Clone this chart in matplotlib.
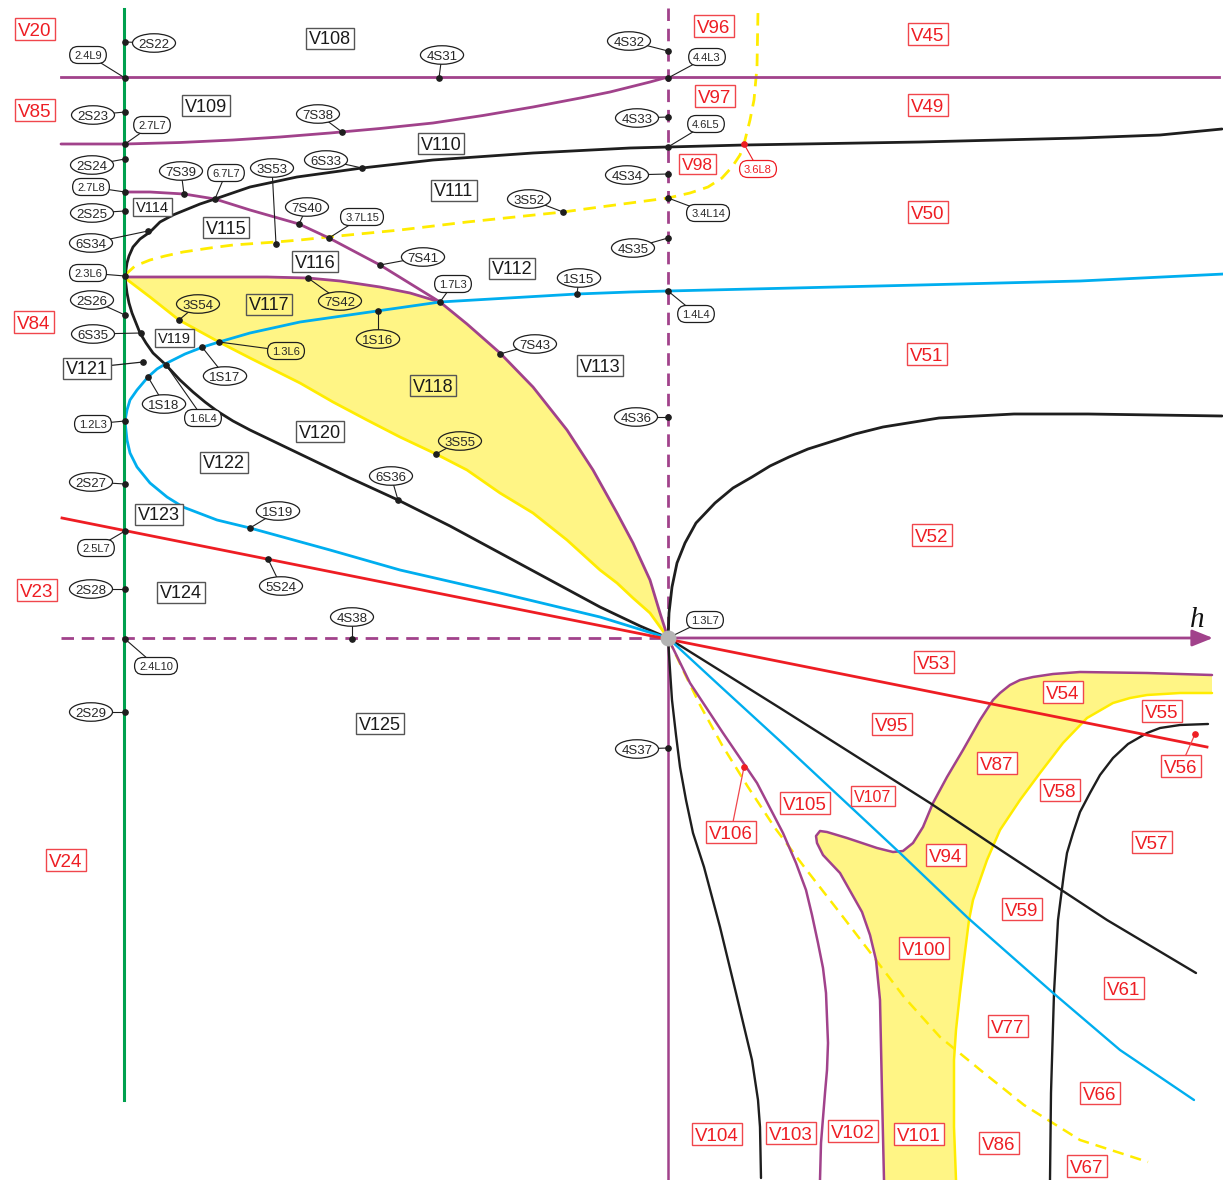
import matplotlib
matplotlib.use("Agg")
import matplotlib.pyplot as plt
from matplotlib.patches import Ellipse, Rectangle, FancyBboxPatch

# ---------------- data (picture coordinates, y downward) ----------------
green_x = [124, 124]
green_y = [9, 1100]

purple_hline_x = [61, 1219]
purple_hline_y = [77, 77]

purple_upper_x = [61, 125, 180, 233, 280, 330, 380, 433, 483, 533, 583, 610, 630, 650, 668]
purple_upper_y = [144, 144, 142.5, 140, 137, 133, 128.5, 123, 115.5, 107, 97.5, 92, 87, 82, 77]

black_upper_x = [1222, 1160, 1080, 920, 744, 668, 630, 533, 433, 362, 297, 250, 215, 200, 173, 160, 150, 140,
                 133, 129, 127, 126, 125, 126, 127, 129, 132, 136, 140, 146, 153, 166, 180, 193, 205, 217,
                 233, 250, 275, 300, 350, 398, 450, 500, 550, 600, 640, 668]
black_upper_y = [129, 135, 138, 142, 145, 147, 148, 153, 160, 168, 177, 187, 199, 204, 215, 222, 232, 239,
                 247, 256, 263, 270, 277, 285, 293, 303, 313, 323, 333, 343, 353, 365, 380, 392, 402, 411,
                 421, 430, 442, 454, 478, 500, 526, 553, 580, 607, 626, 638]

black_ray_x = [668, 780, 930, 993, 1107, 1196]
black_ray_y = [638, 708, 803, 845, 920, 973]

black_v52_x = [668, 669, 672, 677, 685, 696, 715, 733, 752, 770, 789, 808, 827, 855, 883, 939, 1014, 1088, 1222]
black_v52_y = [640, 613, 587, 563, 543, 523, 503, 488, 477, 466, 457, 449, 443, 434, 427, 418, 414, 414, 416]

black_down_x = [668, 670, 672, 676, 680, 686, 693, 704, 720, 736, 752, 758, 760, 761]
black_down_y = [638, 670, 700, 735, 767, 800, 833, 867, 927, 993, 1060, 1100, 1127, 1178]

black_br_x = [1208, 1180, 1160, 1147, 1128, 1113, 1100, 1090, 1080, 1073, 1067, 1064, 1058, 1054, 1051, 1050]
black_br_y = [724, 725, 728, 733, 744, 758, 775, 793, 812, 833, 853, 873, 920, 993, 1093, 1180]

ydash_top_x = [125, 135, 150, 165, 183, 210, 233, 276, 300, 328, 400, 467, 563, 600, 668, 690, 708, 722, 732,
               740, 744, 750, 754, 757, 758]
ydash_top_y = [275, 266, 260, 256, 252, 248, 245, 242, 240, 237, 230, 222, 212, 207, 198, 193, 187, 178, 167,
               155, 144, 120, 100, 67, 10]

ydash_low_x = [668, 682, 700, 722, 748, 775, 805, 840, 876, 904, 940, 984, 1024, 1080, 1148]
ydash_low_y = [638, 668, 705, 745, 787, 828, 868, 913, 960, 997, 1037, 1073, 1105, 1140, 1162]

purple_low_x = [668, 690, 723, 757, 783, 796, 806, 812, 818, 823, 826, 828, 827, 825, 821, 820]
purple_low_y = [638, 683, 733, 783, 833, 863, 890, 915, 943, 968, 993, 1043, 1070, 1093, 1143, 1180]

blue_upper_x = [1224, 1080, 920, 668, 630, 577, 440, 377, 300, 250, 219, 203, 185, 167, 157, 148, 137, 130, 127,
                125, 127, 130, 137, 150, 167, 183, 217, 250, 330, 400, 500, 600, 668]
blue_upper_y = [274, 281, 285, 291, 292, 294, 302, 311, 322, 333, 342, 347, 354, 363, 369, 377, 390, 400, 410,
                421, 440, 453, 467, 483, 497, 507, 520, 528, 550, 570, 593, 617, 638]

blue_low_x = [668, 720, 780, 840, 900, 968, 1052, 1120, 1160, 1194]
blue_low_y = [638, 686, 741, 797, 853, 918, 992, 1050, 1077, 1100]

red_x = [62, 1207]
red_y = [518, 747]

arc_a_x = [125, 150, 184, 215, 250, 299, 329, 380, 440]
arc_a_y = [192, 192, 194, 199, 210, 224, 238, 265, 302]
arc_b_x = [440, 467, 500, 533, 567, 593, 617, 633, 650, 660, 668]
arc_b_y = [302, 324, 353, 387, 430, 470, 513, 543, 580, 613, 638]

wedge_top_x = [125, 200, 267, 308, 340, 380, 410, 440]
wedge_top_y = [277, 277, 277, 278, 281, 287, 293, 302]

ysolid_x = [125, 150, 179, 219, 250, 300, 333, 367, 400, 436, 467, 500, 533, 567, 600, 617, 633, 650, 668]
ysolid_y = [278, 297, 320, 342, 358, 383, 402, 420, 437, 454, 470, 493, 513, 540, 570, 583, 598, 613, 638]

band_purple_x = [1212, 1147, 1080, 1053, 1033, 1020, 1010, 1000, 993, 980, 963, 947, 933, 923, 913, 903, 893, 877,
                 847, 827, 820, 816, 817, 823, 840, 862, 870, 876, 880, 882, 884]
band_purple_y = [675, 673, 672, 674, 677, 680, 685, 693, 700, 720, 750, 777, 803, 827, 843, 851, 852, 848,
                 838, 832, 831, 836, 843, 855, 873, 912, 935, 960, 1000, 1093, 1180]

band_yellow_x = [1212, 1180, 1147, 1130, 1113, 1087, 1063, 1040, 1020, 1000, 987, 973, 969, 964, 960, 956, 954,
                 954, 956]
band_yellow_y = [693, 693, 695, 698, 703, 718, 743, 773, 800, 830, 860, 900, 920, 960, 993, 1030, 1060, 1127,
                 1180]

# region labels
red_boxes = [("V20", 35, 29), ("V85", 35, 110), ("V84", 34, 322), ("V23", 37, 590), ("V24", 66, 860),
             ("V96", 714, 26), ("V97", 715, 96), ("V98", 697, 164), ("V45", 928, 34), ("V49", 928, 105),
             ("V50", 928, 212), ("V51", 927, 354), ("V52", 932, 535), ("V53", 934, 662), ("V54", 1063, 692),
             ("V55", 1162, 711), ("V56", 1181, 766), ("V95", 892, 724), ("V87", 997, 763), ("V58", 1060, 790),
             ("V107", 873, 796), ("V105", 805, 803), ("V94", 946, 855), ("V57", 1152, 842), ("V59", 1022, 909),
             ("V106", 731, 832), ("V100", 924, 948), ("V61", 1124, 988), ("V77", 1008, 1026), ("V66", 1100, 1093),
             ("V104", 717, 1134), ("V103", 791, 1133), ("V102", 853, 1131), ("V101", 919, 1134),
             ("V86", 999, 1143), ("V67", 1087, 1166)]
black_boxes = [("V108", 330, 38), ("V109", 206, 105), ("V110", 441, 143), ("V111", 454, 190), ("V112", 512, 268),
               ("V113", 600, 365), ("V114", 152, 207), ("V115", 226, 227), ("V116", 315, 261), ("V117", 269, 304),
               ("V118", 433, 385), ("V119", 174, 338), ("V120", 320, 431), ("V121", 87, 368), ("V122", 224, 462),
               ("V123", 159, 514), ("V124", 181, 592), ("V125", 380, 723)]

# point labels: name, label x, label y, point x, point y
s_points = [("2S22", 154, 43, 125, 42), ("2S23", 93, 115, 125, 112), ("2S24", 92, 165, 125, 159),
            ("2S25", 92, 213, 125, 211), ("6S34", 91, 243, 148, 231), ("2S26", 92, 300, 125, 315),
            ("6S35", 93, 334, 141, 333), ("2S27", 91, 482, 125, 484), ("2S28", 91, 589, 125, 589),
            ("2S29", 91, 712, 125, 712), ("7S39", 181, 171, 184, 194), ("3S53", 272, 168, 276, 244),
            ("7S40", 307, 207, 299, 224), ("6S33", 326, 160, 362, 168), ("7S38", 318, 114, 342, 132),
            ("4S31", 442, 55, 439, 78), ("3S52", 529, 199, 563, 212), ("7S41", 423, 257, 380, 265),
            ("1S15", 579, 278, 577, 294), ("7S42", 340, 301, 308, 278), ("3S54", 198, 304, 179, 320),
            ("1S16", 378, 339, 378, 311), ("1S17", 225, 376, 202, 347), ("1S18", 164, 404, 148, 377),
            ("7S43", 535, 344, 500, 354), ("3S55", 460, 441, 436, 454), ("6S36", 391, 476, 398, 500),
            ("1S19", 278, 511, 250, 528), ("5S24", 281, 586, 268, 559), ("4S38", 352, 617, 352, 639),
            ("4S32", 629, 41, 668, 51), ("4S33", 637, 118, 668, 117), ("4S34", 627, 175, 668, 174),
            ("4S35", 633, 248, 668, 238), ("4S36", 636, 417, 668, 417), ("4S37", 637, 749, 668, 748)]
l_points = [("2.4L9", 88, 55, 125, 78), ("2.7L7", 152, 125, 125, 144), ("2.7L8", 91, 187, 125, 192),
            ("2.3L6", 88, 273, 125, 276), ("6.7L7", 226, 173, 215, 199), ("3.7L15", 362, 217, 329, 238),
            ("1.7L3", 453, 284, 440, 302), ("1.3L6", 286, 351, 219, 342), ("1.6L4", 203, 418, 166, 365),
            ("1.2L3", 93, 424, 125, 421), ("2.5L7", 96, 548, 125, 531), ("2.4L10", 156, 666, 125, 639),
            ("4.4L3", 707, 57, 668, 78), ("4.6L5", 706, 124, 668, 147), ("3.4L14", 708, 213, 668, 198),
            ("1.4L4", 696, 314, 668, 291), ("1.3L7", 705, 620, 668, 638), ("3.6L8", 758, 169, 744, 144)]
in_yellow = {"7S42", "3S54", "1S16", "3S55", "1.3L6", "V117", "V118"}
small_boxes = {"V114": 10.5, "V119": 10.5, "V107": 11.5, "V98": 12.5}
box_leaders = {"V56": (1195, 734), "V106": (744, 767), "V121": (143, 362)}

# ---------------- drawing ----------------
W, H = 1223, 1180
PURPLE = '#a1428b'
GREEN = '#00a04e'
BLUE = '#00aeef'
RED = '#ee1d23'
YLINE = '#ffec00'
YFILL = '#fff585'
BLACK = '#1e1e1e'
TXT = '#262626'
FONT = 'Liberation Sans'

fig = plt.figure(figsize=(W / 100, H / 100), dpi=100)
ax = fig.add_axes([0, 0, 1, 1])
ax.set_xlim(0, W)
ax.set_ylim(H, 0)
ax.axis('off')

# yellow fills
ax.fill(wedge_top_x + arc_b_x[1:] + ysolid_x[::-1], wedge_top_y + arc_b_y[1:] + ysolid_y[::-1],
        color=YFILL, lw=0, zorder=1)
ax.fill(band_purple_x + band_yellow_x[::-1], band_purple_y + band_yellow_y[::-1], color=YFILL, lw=0, zorder=1)

dash = (0, (4.5, 2.8))
J = dict(solid_joinstyle='round', solid_capstyle='round')
# purple
ax.plot(purple_hline_x, purple_hline_y, color=PURPLE, lw=2.0, zorder=3)
ax.plot(purple_upper_x, purple_upper_y, color=PURPLE, lw=2.0, zorder=3, **J)
ax.plot([668, 668], [8, 638], color=PURPLE, lw=2.0, ls=dash, zorder=3)
ax.plot([668, 668], [638, 1180], color=PURPLE, lw=1.8, zorder=3)
ax.plot([61, 668], [638, 638], color=PURPLE, lw=2.0, ls=dash, zorder=3)
ax.annotate('', xy=(1213, 638), xytext=(666, 638),
            arrowprops=dict(arrowstyle='-|>,head_length=0.9,head_width=0.36', color=PURPLE, lw=2.0,
                            shrinkA=0, shrinkB=0, mutation_scale=14), zorder=3)
ax.plot(arc_a_x, arc_a_y, color=PURPLE, lw=2.0, zorder=3, **J)
ax.plot(arc_b_x, arc_b_y, color=PURPLE, lw=2.0, zorder=3, **J)
ax.plot(wedge_top_x, wedge_top_y, color=PURPLE, lw=2.0, zorder=3, **J)
ax.plot(purple_low_x, purple_low_y, color=PURPLE, lw=1.8, zorder=3, **J)
ax.plot(band_purple_x, band_purple_y, color=PURPLE, lw=1.8, zorder=3, **J)

# yellow
ax.plot(ysolid_x, ysolid_y, color=YLINE, lw=2.0, zorder=2.5, **J)
ax.plot(band_yellow_x, band_yellow_y, color=YLINE, lw=1.8, zorder=2.5, **J)
ax.plot(ydash_top_x, ydash_top_y, color=YLINE, lw=2.0, ls=dash, zorder=2.5)
ax.plot(ydash_low_x, ydash_low_y, color=YLINE, lw=1.8, ls=dash, zorder=2.5)

# black
ax.plot(black_upper_x, black_upper_y, color=BLACK, lw=2.0, zorder=3, **J)
ax.plot(black_ray_x, black_ray_y, color=BLACK, lw=1.7, zorder=3, **J)
ax.plot(black_v52_x, black_v52_y, color=BLACK, lw=2.0, zorder=3, **J)
ax.plot(black_down_x, black_down_y, color=BLACK, lw=1.7, zorder=3, **J)
ax.plot(black_br_x, black_br_y, color=BLACK, lw=1.7, zorder=3, **J)

# blue, red, green
ax.plot(blue_upper_x, blue_upper_y, color=BLUE, lw=2.0, zorder=3, **J)
ax.plot(blue_low_x, blue_low_y, color=BLUE, lw=1.7, zorder=3, **J)
ax.plot(red_x, red_y, color=RED, lw=2.0, zorder=3)
ax.plot(green_x, green_y, color=GREEN, lw=2.2, zorder=3.2)

ax.text(1197, 627, 'h', fontsize=21, style='italic', family='Liberation Serif', ha='center',
        va='baseline', color='#111111', zorder=8)

renderer = fig.canvas.get_renderer()


def em(fs):
    return fs * 100 / 72


def box_label(name, cx, cy, color, ec):
    fs = small_boxes.get(name, 13.5 if color == RED else 13)
    fc = YFILL if name in in_yellow else 'white'
    if name in box_leaders:
        px, py = box_leaders[name]
        ax.plot([cx, px], [cy, py], color=ec if color == RED else BLACK, lw=0.9, zorder=6)
        ax.plot(px, py, 'o', ms=3.8, color=color if color == RED else BLACK, zorder=6.5)
    t = ax.text(cx, cy + 0.36 * em(fs), name, fontsize=fs, color=color, ha='center', va='baseline',
                family=FONT, zorder=8)
    w = t.get_window_extent(renderer).width
    h = 0.72 * em(fs) + 8
    ax.add_patch(Rectangle((cx - w / 2 - 3, cy - h / 2), w + 6, h, fc=fc, ec=ec, lw=1.0, zorder=7))


for n, x, y in red_boxes:
    box_label(n, x, y, RED, '#f0464c')
for n, x, y in black_boxes:
    box_label(n, x, y, '#1a1a1a', '#555555')


def point_label(name, lx, ly, px, py, kind):
    fc = YFILL if name in in_yellow else 'white'
    col = RED if name == '3.6L8' else BLACK
    tcol = RED if name == '3.6L8' else TXT
    ax.plot([lx, px], [ly, py], color=col, lw=0.8, zorder=5)
    if name == '1.3L7':
        ax.plot(px, py, 'o', ms=10.5, color='#b4b4b4', zorder=6.5)
    else:
        ax.plot(px, py, 'o', ms=3.8, color=col, zorder=6.5)
    fs = 9.5 if kind == 'S' else 8
    t = ax.text(lx, ly + 0.36 * em(fs), name, fontsize=fs, color=tcol, ha='center', va='baseline',
                family=FONT, zorder=8)
    w = t.get_window_extent(renderer).width
    if kind == 'S':
        ax.add_patch(Ellipse((lx, ly), w + 12, 18.5, fc=fc, ec=col, lw=0.9, zorder=7))
    else:
        bw, bh = w + 9, 17
        ax.add_patch(FancyBboxPatch((lx - bw / 2, ly - bh / 2), bw, bh,
                                    boxstyle='round,pad=0,rounding_size=8.4', fc=fc, ec=col, lw=0.9,
                                    zorder=7))


for n, lx, ly, px, py in s_points:
    point_label(n, lx, ly, px, py, 'S')
for n, lx, ly, px, py in l_points:
    point_label(n, lx, ly, px, py, 'L')

fig.savefig('out.png', dpi=100)
